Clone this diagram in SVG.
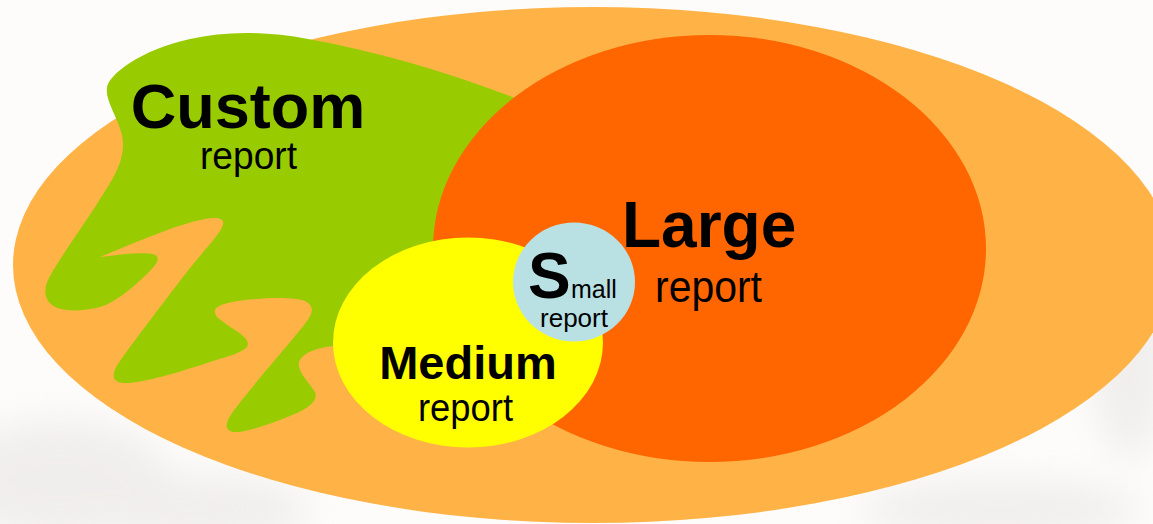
<svg xmlns="http://www.w3.org/2000/svg" width="1153" height="524" viewBox="0 0 1153 524">
  <defs>
    <filter id="soft" x="-50%" y="-50%" width="200%" height="200%">
      <feGaussianBlur stdDeviation="18"/>
    </filter>
  </defs>
  <style>
    .bold { font-family: "Liberation Sans", Arial, sans-serif; font-weight: bold; fill: #000; }
    .reg { font-family: "Liberation Sans", Arial, sans-serif; font-weight: normal; fill: #000; }
    .mid { text-anchor: middle; }
  </style>

  <g id="background">
    <rect x="0" y="0" width="1153" height="524" fill="#fdfcfa"/>
    <g filter="url(#soft)" fill="#dedad8" opacity="0.4">
      <ellipse cx="60" cy="480" rx="110" ry="60"/>
      <ellipse cx="200" cy="510" rx="110" ry="35"/>
      <ellipse cx="1130" cy="330" rx="40" ry="130"/>
      <ellipse cx="1000" cy="510" rx="140" ry="30"/>
    </g>
  </g>

  <g id="connectors"/>

  <g id="node-outer">
    <ellipse cx="593" cy="265" rx="580" ry="258" fill="#FFB347"/>
  </g>

  <g id="node-custom">
    <path fill="#99CC00" d="M 333,346
      C 318,348 303,352 299,362
      C 297,372 310,383 315,392
      C 319,402 305,410 290,416
      C 270,424 245,433 234,432
      C 224,431 225,423 232,413
      C 245,395 275,360 300,330
      C 310,318 318,308 305,301
      C 290,296 255,298 232,302
      C 210,306 212,314 222,321
      C 235,331 252,338 247,347
      C 243,352 230,356 210,362
      C 180,372 140,384 124,383
      C 110,382 112,372 120,361
      C 135,340 165,300 190,268
      C 210,243 228,226 222,220
      C 216,214 190,222 170,229
      C 140,240 115,251 100,257
      C 115,255 140,252 152,254
      C 162,256 158,263 149,272
      C 135,286 115,303 100,307
      C 85,311 65,312 55,307
      C 43,300 43,288 50,276
      C 60,258 80,230 97,204
      C 112,180 127,160 122,135
      C 118,118 105,100 107,88
      C 108,75 140,50 190,39
      C 225,31 265,31 308,39
      C 380,52 460,75 540,108
      L 560,220 L 480,300 L 380,340 Z"/>
    <text class="bold mid" x="248" y="128" font-size="63">Custom</text>
    <text class="reg mid" x="248.5" y="169" font-size="38" textLength="97" lengthAdjust="spacingAndGlyphs">report</text>
  </g>

  <g id="node-large">
    <ellipse cx="709.5" cy="248.5" rx="276.5" ry="213.5" fill="#FF6600"/>
    <text class="bold" x="622" y="247" font-size="64">Large</text>
    <text class="reg mid" x="708.5" y="302" font-size="45" textLength="107" lengthAdjust="spacingAndGlyphs">report</text>
  </g>

  <g id="node-medium">
    <ellipse cx="468" cy="342.5" rx="135" ry="105" fill="#FFFF00"/>
    <text class="bold mid" x="468" y="379" font-size="47">Medium</text>
    <text class="reg mid" x="465.5" y="421" font-size="39" textLength="95" lengthAdjust="spacingAndGlyphs">report</text>
  </g>

  <g id="node-small">
    <ellipse cx="574" cy="282" rx="61" ry="59.5" fill="#B9E0E3"/>
    <text class="bold" x="528" y="298" font-size="64">S</text>
    <text class="reg" x="571" y="298" font-size="25">mall</text>
    <text class="reg mid" x="574" y="327" font-size="26" textLength="68" lengthAdjust="spacingAndGlyphs">report</text>
  </g>
</svg>
